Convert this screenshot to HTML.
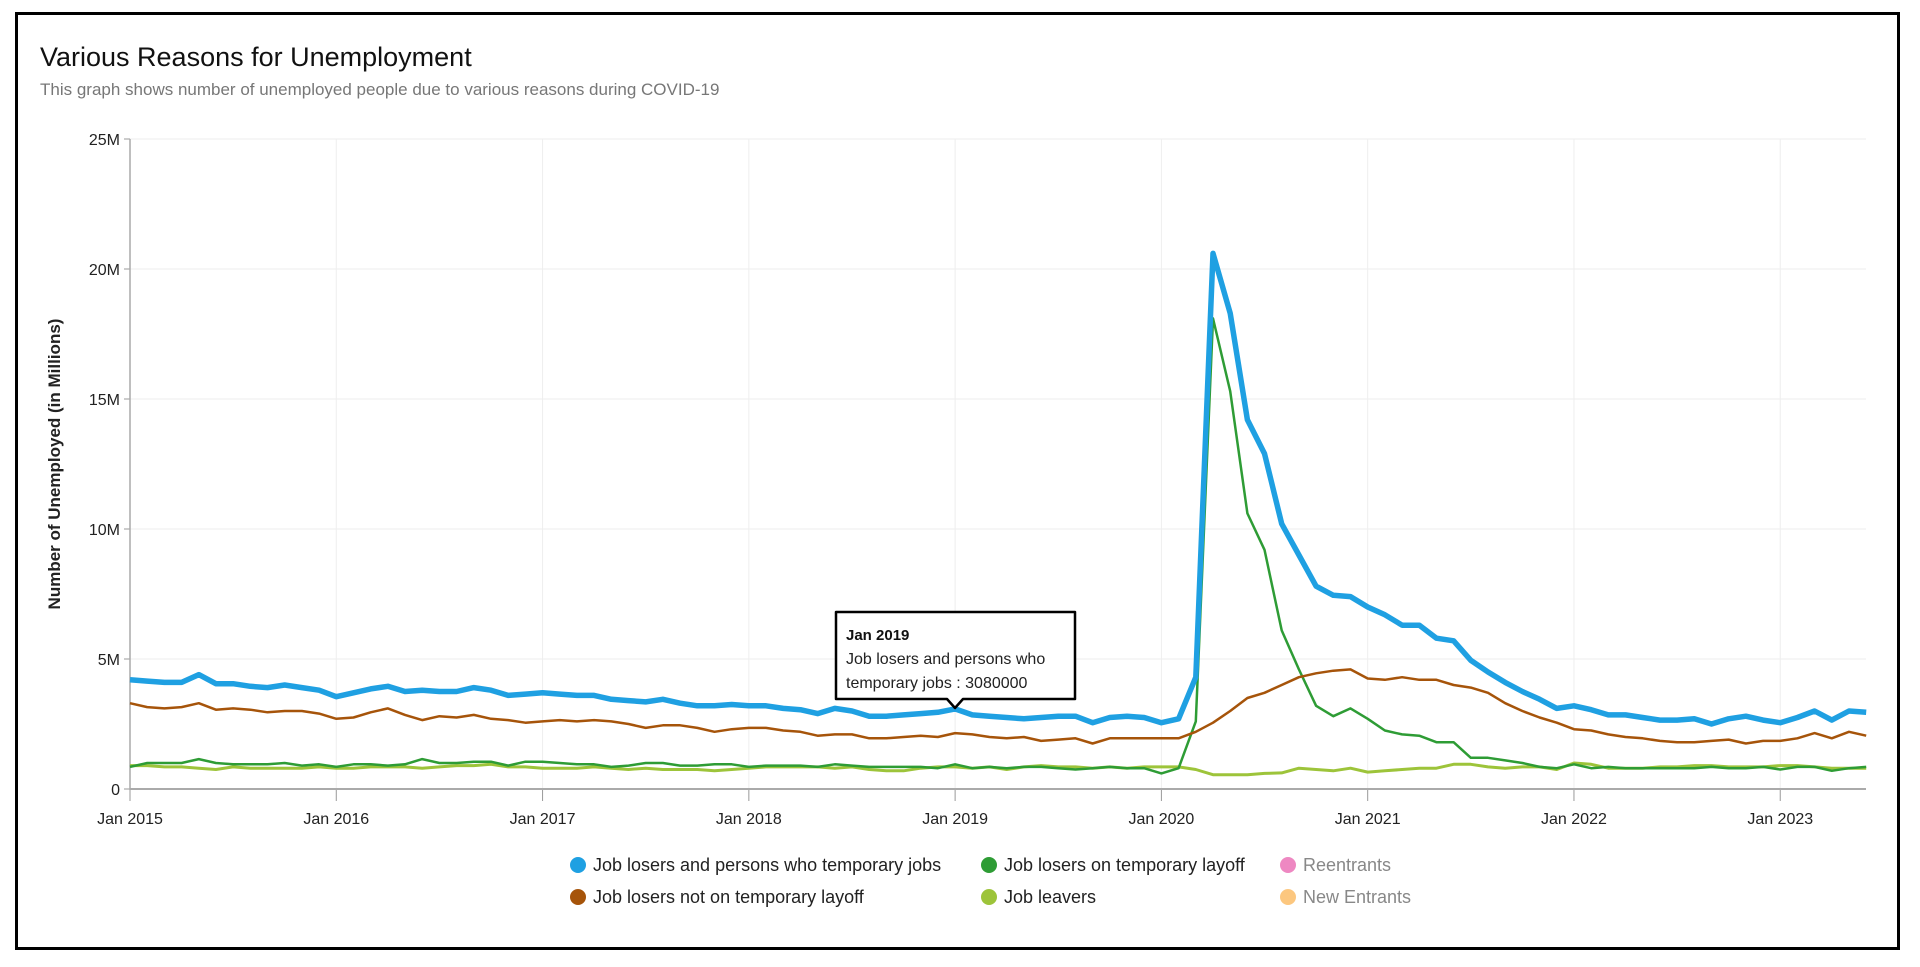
<!DOCTYPE html>
<html><head><meta charset="utf-8">
<style>
body{margin:0;background:#fff;width:1920px;height:967px;overflow:hidden;font-family:"Liberation Sans",sans-serif}
.frame{position:absolute;left:15px;top:12px;width:1885px;height:938px;border:3px solid #000;box-sizing:border-box}
.t{position:absolute;left:40px;top:42px;font-size:27px;color:#111}
.s{position:absolute;left:40px;top:80px;font-size:17px;color:#777}
</style></head><body>
<div class="frame"></div>
<div class="t">Various Reasons for Unemployment</div>
<div class="s">This graph shows number of unemployed people due to various reasons during COVID-19</div>
<svg id="c" width="1920" height="967" style="position:absolute;left:0;top:0" font-family="Liberation Sans, sans-serif"></svg>
<script>
var blue=[4.2,4.15,4.1,4.1,4.4,4.05,4.05,3.95,3.9,4.0,3.9,3.8,3.55,3.7,3.85,3.95,3.75,3.8,3.75,3.75,3.9,3.8,3.6,3.65,3.7,3.65,3.6,3.6,3.45,3.4,3.35,3.45,3.3,3.2,3.2,3.25,3.2,3.2,3.1,3.05,2.9,3.1,3.0,2.8,2.8,2.85,2.9,2.95,3.08,2.85,2.8,2.75,2.7,2.75,2.8,2.8,2.55,2.75,2.8,2.75,2.55,2.7,4.3,20.6,18.3,14.2,12.9,10.2,9.0,7.8,7.45,7.4,7.0,6.7,6.3,6.3,5.8,5.7,4.95,4.5,4.1,3.75,3.45,3.1,3.2,3.05,2.85,2.85,2.75,2.65,2.65,2.7,2.5,2.7,2.8,2.65,2.55,2.75,3.0,2.65,3.0,2.95];
var brown=[3.3,3.15,3.1,3.15,3.3,3.05,3.1,3.05,2.95,3.0,3.0,2.9,2.7,2.75,2.95,3.1,2.85,2.65,2.8,2.75,2.85,2.7,2.65,2.55,2.6,2.65,2.6,2.65,2.6,2.5,2.35,2.45,2.45,2.35,2.2,2.3,2.35,2.35,2.25,2.2,2.05,2.1,2.1,1.95,1.95,2.0,2.05,2.0,2.15,2.1,2.0,1.95,2.0,1.85,1.9,1.95,1.75,1.95,1.95,1.95,1.95,1.95,2.2,2.55,3.0,3.5,3.7,4.0,4.3,4.45,4.55,4.6,4.25,4.2,4.3,4.2,4.2,4.0,3.9,3.7,3.3,3.0,2.75,2.55,2.3,2.25,2.1,2.0,1.95,1.85,1.8,1.8,1.85,1.9,1.75,1.85,1.85,1.95,2.15,1.95,2.2,2.05];
var green=[0.85,1.0,1.0,1.0,1.15,1.0,0.95,0.95,0.95,1.0,0.9,0.95,0.85,0.95,0.95,0.9,0.95,1.15,1.0,1.0,1.05,1.05,0.9,1.05,1.05,1.0,0.95,0.95,0.85,0.9,1.0,1.0,0.9,0.9,0.95,0.95,0.85,0.9,0.9,0.9,0.85,0.95,0.9,0.85,0.85,0.85,0.85,0.8,0.95,0.8,0.85,0.8,0.85,0.85,0.8,0.75,0.8,0.85,0.8,0.8,0.6,0.8,2.6,18.1,15.3,10.6,9.2,6.1,4.6,3.2,2.8,3.1,2.7,2.25,2.1,2.05,1.8,1.8,1.2,1.2,1.1,1.0,0.85,0.8,0.95,0.8,0.85,0.8,0.8,0.8,0.8,0.8,0.85,0.8,0.8,0.85,0.75,0.85,0.85,0.7,0.8,0.85];
var lg=[0.9,0.9,0.85,0.85,0.8,0.75,0.85,0.8,0.8,0.8,0.8,0.85,0.8,0.8,0.85,0.85,0.85,0.8,0.85,0.9,0.9,0.95,0.85,0.85,0.8,0.8,0.8,0.85,0.8,0.75,0.8,0.75,0.75,0.75,0.7,0.75,0.8,0.85,0.85,0.85,0.85,0.8,0.85,0.75,0.7,0.7,0.8,0.85,0.85,0.8,0.85,0.75,0.85,0.9,0.85,0.85,0.8,0.85,0.8,0.85,0.85,0.85,0.75,0.55,0.55,0.55,0.6,0.62,0.8,0.75,0.7,0.8,0.65,0.7,0.75,0.8,0.8,0.95,0.95,0.85,0.8,0.85,0.85,0.75,1.0,0.95,0.8,0.8,0.8,0.85,0.85,0.9,0.9,0.85,0.85,0.85,0.9,0.9,0.85,0.8,0.8,0.8];
var X0=130,MX=17.19,Y0=789,YS=26;
var h='';
for(var i=0;i<=5;i++){var y=Y0-i*5*YS;h+='<line x1="'+X0+'" x2="1866" y1="'+y+'" y2="'+y+'" stroke="#eee"/>';h+='<line x1="'+(X0-6)+'" x2="'+X0+'" y1="'+y+'" y2="'+y+'" stroke="#999"/>';h+='<text x="'+(X0-10)+'" y="'+(y+6)+'" text-anchor="end" font-size="16" fill="#222">'+(i?i*5+'M':'0')+'</text>';}
for(var k=0;k<9;k++){var x=X0+k*12*MX;h+='<line x1="'+x+'" x2="'+x+'" y1="139" y2="'+Y0+'" stroke="#eee"/>';h+='<line x1="'+x+'" x2="'+x+'" y1="'+Y0+'" y2="'+(Y0+12)+'" stroke="#999"/>';h+='<text x="'+x+'" y="824" text-anchor="middle" font-size="16" fill="#222">Jan '+(2015+k)+'</text>';}
h+='<line x1="'+X0+'" x2="'+X0+'" y1="139" y2="'+Y0+'" stroke="#aaa" stroke-width="1.5"/><line x1="'+X0+'" x2="1866" y1="'+Y0+'" y2="'+Y0+'" stroke="#aaa" stroke-width="2"/>';
h+='<text transform="translate(60,464) rotate(-90)" text-anchor="middle" font-size="17" font-weight="bold" fill="#222">Number of Unemployed (in Millions)</text>';
function pl(a,c,w){var p=a.map(function(v,i){return (X0+i*MX).toFixed(1)+','+(Y0-v*YS).toFixed(1)}).join(' ');return '<polyline points="'+p+'" fill="none" stroke="'+c+'" stroke-width="'+w+'" stroke-linejoin="round"/>';}
h+=pl(lg,'#9dc43a',3)+pl(green,'#2e9c35',2.5)+pl(brown,'#a6540a',2.5)+pl(blue,'#1fa0e2',5.5);
h+='<path d="M836,612 H1075 V699 H963 L955,708 L947,699 H836 Z" fill="#fff" stroke="#000" stroke-width="2.5" stroke-linejoin="round"/>';
h+='<text x="846" y="640" font-size="15" font-weight="bold" fill="#111">Jan 2019</text><text x="846" y="664" font-size="16" fill="#222">Job losers and persons who</text><text x="846" y="688" font-size="16" fill="#222">temporary jobs : 3080000</text>';
var L=[[578,865,'#1fa0e2','Job losers and persons who temporary jobs','#222'],[578,897,'#a6540a','Job losers not on temporary layoff','#222'],[989,865,'#2e9c35','Job losers on temporary layoff','#222'],[989,897,'#9dc43a','Job leavers','#222'],[1288,865,'#ee88c2','Reentrants','#888'],[1288,897,'#fcc77f','New Entrants','#888']];
L.forEach(function(l){h+='<circle cx="'+l[0]+'" cy="'+l[1]+'" r="8" fill="'+l[2]+'"/><text x="'+(l[0]+15)+'" y="'+(l[1]+6)+'" font-size="18" fill="'+l[4]+'">'+l[3]+'</text>';});
document.getElementById('c').innerHTML=h;
</script>
</body></html>
